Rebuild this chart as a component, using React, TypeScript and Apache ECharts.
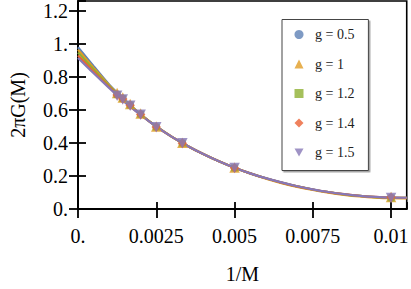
import React, { useEffect, useRef } from "react";
import * as echarts from "echarts";

// 1/M positions of the measured points (M = 800 ... 100)
const invM = [0.00125, 0.001429, 0.001667, 0.002, 0.0025, 0.003333, 0.005, 0.01];
const seriesNames = ["g = 0.5", "g = 1", "g = 1.2", "g = 1.4", "g = 1.5"];
const colors = ["#5E81B5", "#E19C24", "#8FB032", "#EB6235", "#8778B6"];
const symbols = [
  "circle",
  "triangle",
  "rect",
  "diamond",
  "path://M0,0 L10,0 L5,9 Z",
];
const symbolSizes = [7.5, 10.5, 7, 9.5, 10.5];

// measured points
const pts05 = [0.695, 0.671, 0.632, 0.575, 0.497, 0.400, 0.249, 0.068];
const pts10 = [0.702, 0.676, 0.636, 0.579, 0.500, 0.402, 0.252, 0.072];
const pts12 = [0.693, 0.669, 0.630, 0.574, 0.497, 0.399, 0.249, 0.067];
const pts14 = [0.690, 0.667, 0.628, 0.573, 0.496, 0.399, 0.249, 0.071];
const pts15 = [0.686, 0.663, 0.625, 0.571, 0.495, 0.398, 0.248, 0.066];

// fitted curves at these 1/M positions
const fitX = [
  0, 0.0005, 0.001, 0.0015, 0.002, 0.0025, 0.003, 0.0035, 0.004, 0.0045, 0.005,
  0.0055, 0.006, 0.0065, 0.007, 0.0075, 0.008, 0.0085, 0.009, 0.0095, 0.01, 0.0105,
];
const fit05 = [
  0.980, 0.865, 0.753, 0.660, 0.574, 0.500, 0.437, 0.382, 0.333, 0.289, 0.250,
  0.216, 0.186, 0.160, 0.137, 0.118, 0.102, 0.089, 0.079, 0.072, 0.068, 0.067,
];
const fit10 = [
  0.965, 0.855, 0.748, 0.656, 0.573, 0.500, 0.437, 0.382, 0.333, 0.289, 0.250,
  0.215, 0.184, 0.157, 0.134, 0.115, 0.099, 0.086, 0.076, 0.069, 0.065, 0.064,
];
const fit12 = [
  0.948, 0.845, 0.743, 0.652, 0.572, 0.500, 0.437, 0.382, 0.333, 0.289, 0.250,
  0.216, 0.186, 0.160, 0.137, 0.118, 0.102, 0.089, 0.079, 0.072, 0.068, 0.067,
];
const fit14 = [
  0.930, 0.832, 0.737, 0.649, 0.571, 0.499, 0.437, 0.382, 0.333, 0.289, 0.250,
  0.216, 0.186, 0.160, 0.137, 0.118, 0.102, 0.090, 0.080, 0.073, 0.069, 0.068,
];
const fit15 = [
  0.915, 0.822, 0.732, 0.646, 0.570, 0.499, 0.437, 0.382, 0.333, 0.289, 0.250,
  0.216, 0.187, 0.161, 0.138, 0.119, 0.103, 0.090, 0.080, 0.073, 0.069, 0.068,
];

const xTickLabels: Record<string, string> = {
  "0": "0.",
  "0.0025": "0.0025",
  "0.005": "0.005",
  "0.0075": "0.0075",
  "0.01": "0.01",
};

const pointSets = [pts05, pts10, pts12, pts14, pts15];
const fitSets = [fit05, fit10, fit12, fit14, fit15];

const FONT = "'Liberation Serif', 'DejaVu Serif', serif";

export default function App() {
  const ref = useRef<HTMLDivElement>(null);
  useEffect(() => {
    if (!ref.current) return;
    const chart = echarts.init(ref.current, undefined, { renderer: "svg" });

    const lineSeries = fitSets.map((f, i) => ({
      name: "fit " + seriesNames[i],
      type: "line",
      xAxisIndex: 0,
      yAxisIndex: 0,
      data: fitX.map((x, j) => [x, f[j]]),
      smooth: 0.3,
      showSymbol: false,
      symbol: "none",
      lineStyle: { color: colors[i], width: 2.2 },
      z: 2,
      silent: true,
    }));
    const scatterSeries = pointSets.map((p, i) => ({
      name: seriesNames[i],
      type: "scatter",
      xAxisIndex: 0,
      yAxisIndex: 0,
      data: invM.map((x, j) => [x, p[j]]),
      symbol: symbols[i],
      symbolSize: symbolSizes[i],
      itemStyle: { color: colors[i] },
      z: 3,
    }));

    const fmtX = (v: number) => {
      const key = String(Math.round(v * 10000) / 10000);
      return xTickLabels[key] ?? key;
    };
    const fmtY = (v: number) => {
      const r = Math.round(v * 10) / 10;
      if (r === 0) return "0.";
      if (r === 1) return "1.";
      return r.toFixed(1);
    };

    chart.setOption({
      animation: false,
      backgroundColor: "#ffffff",
      grid: {
        left: 66,
        right: 2.5,
        top: 1,
        bottom: 77,
        show: true,
        borderColor: "#000",
        borderWidth: 1.6,
        backgroundColor: "transparent",
      },
      legend: {
        data: seriesNames,
        orient: "vertical",
        left: 282,
        top: 19.5,
        itemWidth: 9,
        itemHeight: 9,
        itemGap: 15.5,
        padding: [8, 14, 11, 12.5],
        backgroundColor: "#fff",
        borderColor: "#444",
        borderWidth: 1,
        shadowColor: "rgba(0,0,0,0.35)",
        shadowOffsetX: 1.5,
        shadowOffsetY: 1.5,
        shadowBlur: 1,
        textStyle: {
          fontFamily: FONT,
          fontSize: 14,
          color: "#222",
          lineHeight: 9,
          padding: [0, 0, 0, 6.5],
        },
      },
      xAxis: [
        {
          type: "value",
          min: 0,
          max: 0.0105,
          interval: 0.0025,
          position: "bottom",
          name: "1/M",
          nameLocation: "middle",
          nameGap: 55,
          nameTextStyle: { fontFamily: FONT, fontSize: 20, color: "#000" },
          axisLine: { show: true, onZero: false, lineStyle: { color: "#000", width: 2 } },
          axisTick: { show: true, inside: false, length: 9, lineStyle: { color: "#000", width: 1.8 } },
          axisLabel: {
            formatter: fmtX,
            fontFamily: FONT,
            fontSize: 20,
            color: "#000",
            margin: 17,
            showMaxLabel: false,
          },
          splitLine: { show: false },
        },
        {
          type: "value",
          min: 0,
          max: 0.0105,
          interval: 0.0025,
          position: "bottom",
          axisLine: { show: false, onZero: false },
          axisTick: { show: true, inside: true, length: 7, lineStyle: { color: "#000", width: 1.8 } },
          axisLabel: { show: false },
          splitLine: { show: false },
        },
      ],
      yAxis: [
        {
          type: "value",
          min: 0,
          max: 1.26,
          interval: 0.2,
          position: "left",
          name: "2πG(M)",
          nameLocation: "middle",
          nameGap: 50,
          nameRotate: 90,
          nameTextStyle: { fontFamily: FONT, fontSize: 20, color: "#000" },
          axisLine: { show: true, onZero: false, lineStyle: { color: "#000", width: 2 } },
          axisTick: { show: true, inside: false, length: 9, lineStyle: { color: "#000", width: 1.8 } },
          axisLabel: {
            formatter: fmtY,
            fontFamily: FONT,
            fontSize: 20,
            color: "#000",
            margin: 10,
            showMaxLabel: false,
          },
          splitLine: { show: false },
        },
        {
          type: "value",
          min: 0,
          max: 1.26,
          interval: 0.2,
          position: "left",
          axisLine: { show: false, onZero: false },
          axisTick: { show: true, inside: true, length: 8, lineStyle: { color: "#000", width: 1.8 } },
          axisLabel: { show: false },
          splitLine: { show: false },
        },
      ],
      series: [...lineSeries, ...scatterSeries],
    });

    return () => chart.dispose();
  }, []);

  return (
    <div
      ref={ref}
      style={{ width: 411, height: 289, position: "absolute", left: 0, top: 0 }}
    />
  );
}
